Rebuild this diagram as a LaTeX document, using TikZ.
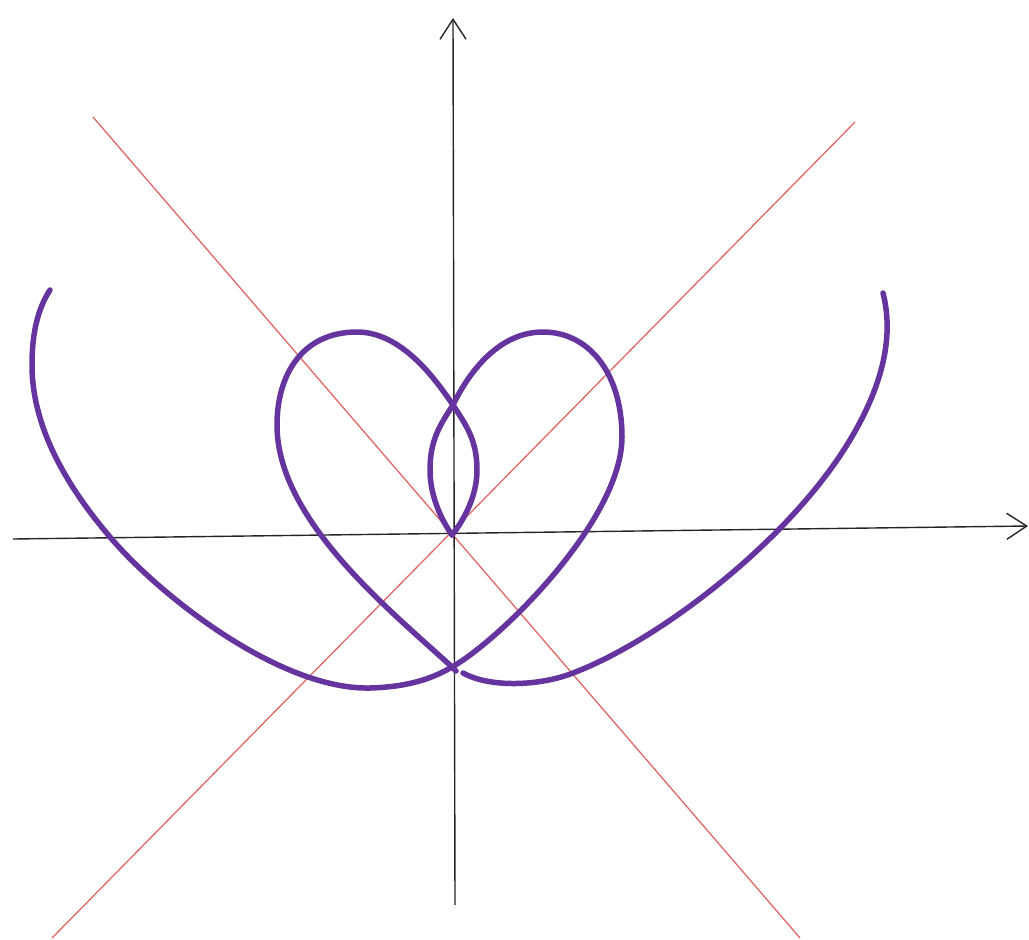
\documentclass[tikz,border=0pt]{standalone}
\usetikzlibrary{arrows.meta}
\definecolor{curvepurple}{RGB}{102,52,158}
\definecolor{guidered}{RGB}{224,104,104}
\tikzset{
  axisline/.style={draw=black!85, line width=1.4pt, -{Straight Barb[length=20pt,width=26pt,line width=1.4pt]}},
  guideline/.style={draw=guidered, line width=1.3pt},
  heartcurve/.style={draw=curvepurple, line width=5.5pt, line cap=round, line join=round},
}
\begin{document}
\begin{tikzpicture}[x=1pt,y=-1pt]
\useasboundingbox (0,0) rectangle (1029,940);
\fill[white] (0,0) rectangle (1029,940);
% guide lines
\coordinate (r1a) at (93,117);
\coordinate (r1b) at (800,938);
\coordinate (r2a) at (855,122);
\coordinate (r2b) at (52,938);
\draw[guideline] (r1a) -- (r1b);
\draw[guideline] (r2a) -- (r2b);
% axes
\coordinate (xl) at (13,539);
\coordinate (xr) at (1028,526);
\coordinate (yb) at (455,905);
\coordinate (yt) at (453,18);
\draw[axisline] (xl) -- (xr);
\draw[axisline] (yb) -- (yt);
% key points of the curve
\coordinate (A) at (50,290);
\coordinate (P) at (32,365);
\coordinate (B) at (110,537);
\coordinate (C) at (370,688);
\coordinate (D) at (452,667);
\coordinate (F) at (622,437);
\coordinate (G) at (543,332);
\coordinate (H) at (453,405);
\coordinate (I) at (430,470);
\coordinate (O) at (452,535);
\coordinate (J) at (477,470);
\coordinate (K) at (357,332);
\coordinate (L) at (277,425);
\coordinate (Dend) at (456,671);
\coordinate (M) at (463,673);
\coordinate (Q) at (573,673);
\coordinate (R) at (850,440);
\coordinate (S) at (883,293);
% curve
\draw[heartcurve] (A) .. controls (37,310) and (32,335) .. (P)
  .. controls (32,430) and (70,490) .. (B)
  .. controls (160,596) and (280,690) .. (C)
  .. controls (405,687) and (430,680) .. (D)
  .. controls (500,640) and (622,520) .. (F)
  .. controls (622,372) and (588,332) .. (G)
  .. controls (500,332) and (470,370) .. (H)
  .. controls (440,425) and (430,440) .. (I)
  .. controls (430,500) and (445,525) .. (O);
\draw[heartcurve] (O) .. controls (460,525) and (477,500) .. (J)
  .. controls (477,440) and (466,425) .. (H)
  .. controls (436,380) and (402,332) .. (K)
  .. controls (302,332) and (277,375) .. (L)
  .. controls (277,520) and (390,610) .. (D) -- (Dend);
\draw[heartcurve] (M) .. controls (490,688) and (540,686) .. (Q)
  .. controls (660,640) and (790,540) .. (R)
  .. controls (880,390) and (895,340) .. (S);
\end{tikzpicture}
\end{document}
